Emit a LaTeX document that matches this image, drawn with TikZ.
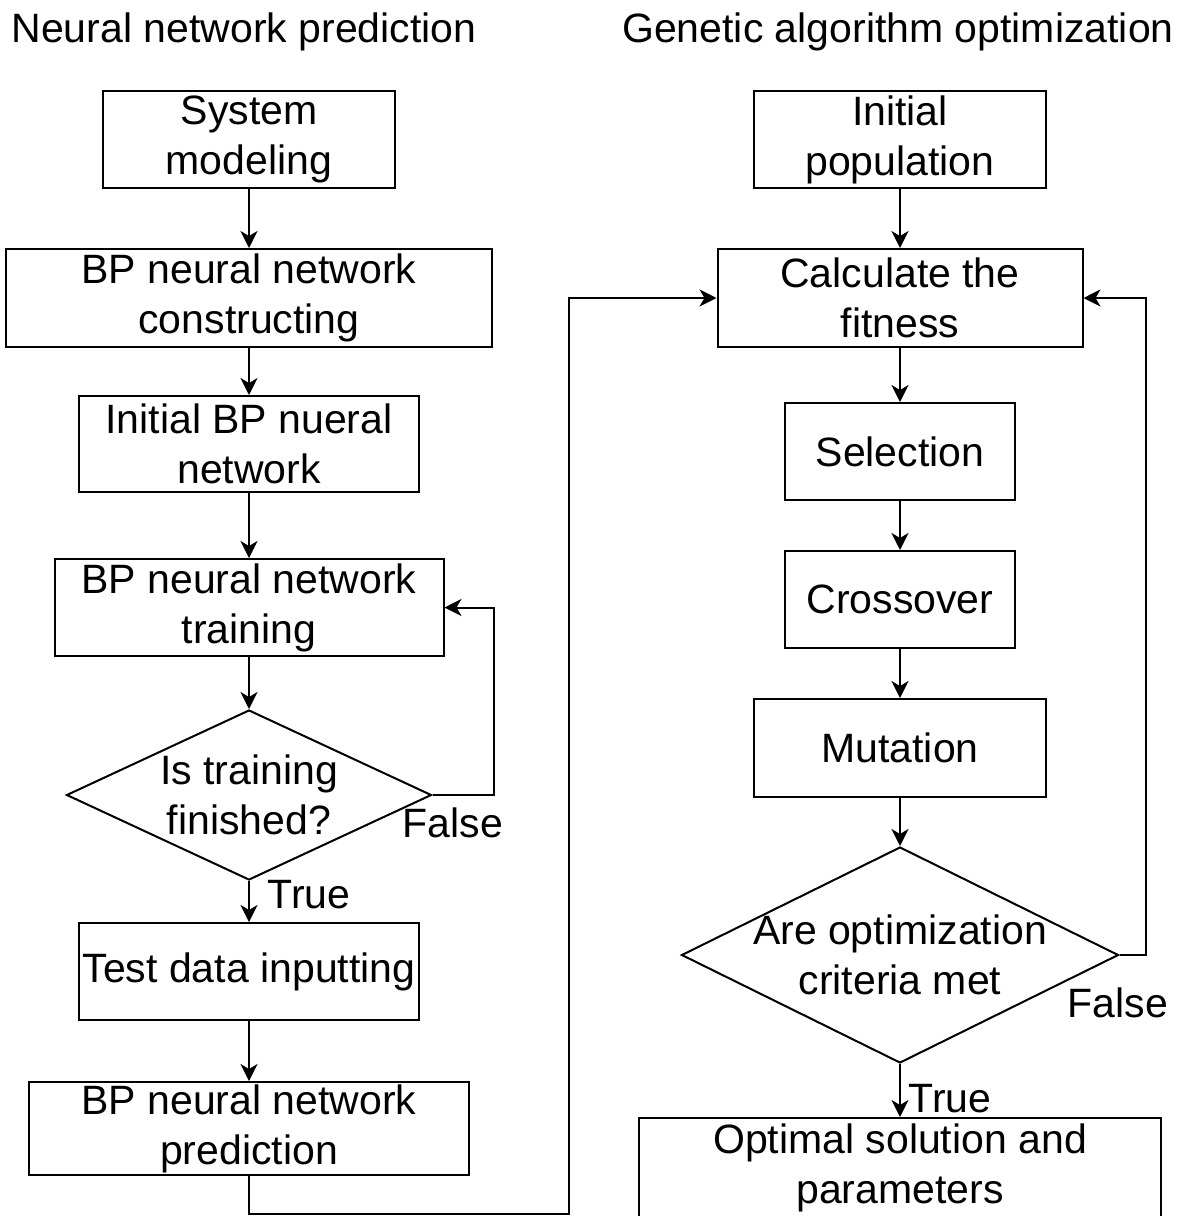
\documentclass[tikz,border=0pt]{standalone}
\usepackage{fontspec}
\setmainfont{Liberation Sans}
\usetikzlibrary{shapes.geometric}
\usetikzlibrary{arrows.meta}
\tikzset{
  box/.style={draw, line width=1pt, align=center, inner sep=0pt, font=\fontsize{20.5}{25}\selectfont},
  decision/.style={draw, shape=diamond, line width=1pt, inner sep=0pt},
  flow/.style={line width=1pt, -{Stealth[length=8.5pt,width=8.5pt,inset=2.5pt]}},
  lbl/.style={inner sep=0pt, font=\fontsize{20.5}{25}\selectfont},
}
\newcommand{\flowbox}[6]{\node[box, minimum width=#4*0.5pt, minimum height=#5*0.5pt] (#1) at (#2,#3) {#6};}
\newcommand{\decnode}[6]{\node[decision, minimum width=#4*0.5pt, minimum height=#5*0.5pt, label={[lbl,align=center]center:#6}] (#1) at (#2,#3) {};}
\begin{document}
\begin{tikzpicture}[x=0.5pt, y=-0.5pt]
        \fill[white] (0,0) rectangle (1182,1216);
        \useasboundingbox (0,0) rectangle (1182,1216);
        % titles
        \node[lbl, anchor=base] (ttlnn) at (244,42) {Neural network prediction};
        \node[lbl, anchor=base] (ttlga) at (898,42) {Genetic algorithm optimization};

        % left column
        \flowbox{sysmod}{249}{139.5}{292}{97}{System\\modeling}
        \flowbox{bpcon}{249}{298}{486}{98}{BP neural network\\constructing}
        \flowbox{initbp}{249}{444}{340}{96}{Initial BP nueral\\network}
        \flowbox{bptrain}{249}{607.5}{389}{97}{BP neural network\\training}
        \decnode{train}{249}{795}{365}{170}{Is training\\finished?}
        \flowbox{test}{249}{971.5}{340}{97}{Test data inputting}
        \flowbox{pred}{249}{1128.5}{440}{93}{BP neural network\\prediction}

        % right column
        \flowbox{initpop}{900}{139.5}{292}{97}{Initial\\population}
        \flowbox{fit}{900}{298}{365}{98}{Calculate the\\fitness}
        \flowbox{select}{900}{451.5}{230}{97}{Selection}
        \flowbox{cross}{900}{599.5}{230}{97}{Crossover}
        \flowbox{mutat}{900}{748}{292}{98}{Mutation}
        \decnode{crit}{900}{955}{437}{216}{Are optimization\\criteria met}
        \flowbox{optim}{900}{1168}{522}{100}{Optimal solution and\\parameters}

        % arrows left
        \draw[flow] (sysmod) -- (bpcon);
        \draw[flow] (bpcon) -- (initbp);
        \draw[flow] (initbp) -- (bptrain);
        \draw[flow] (bptrain) -- (train);
        \draw[flow] (train.east) -- ++(61,0) |- (bptrain.east);
        \draw[flow] (train) -- (test);
        \draw[flow] (test) -- (pred);
        \node[lbl] (falsenn) at (453,823) {False};
        \node[lbl] (truenn) at (309,895) {True};

        % link between columns
        \coordinate (turn) at (569,1214);
        \draw[flow] (pred.south) |- (turn) |- (fit.west);

        % arrows right
        \draw[flow] (initpop) -- (fit);
        \draw[flow] (fit) -- (select);
        \draw[flow] (select) -- (cross);
        \draw[flow] (cross) -- (mutat);
        \draw[flow] (mutat) -- (crit);
        \draw[flow] (crit.east) -- ++(26,0) |- (fit.east);
        \draw[flow] (crit) -- (optim);
        \node[lbl] (falsega) at (1118,1003) {False};
        \node[lbl] (truega) at (950,1099) {True};
\end{tikzpicture}
\end{document}
